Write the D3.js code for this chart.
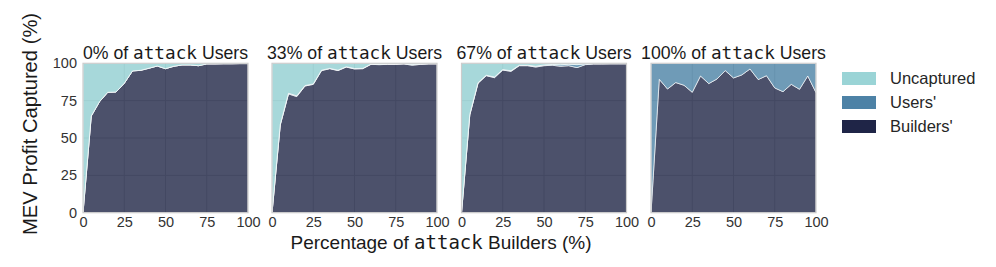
<!DOCTYPE html>
<html><head><meta charset="utf-8">
<script src="https://cdn.jsdelivr.net/npm/d3@7"></script>
<style>
body{margin:0;background:#fff;}
text{font-family:"Liberation Sans",Arial,sans-serif;}
.mono{font-family:"DejaVu Sans Mono",monospace;}
</style></head>
<body><svg id="chart" width="996" height="267"></svg>
<script>
// ---- data ----
const xValues = [0,5,10,15,20,25,30,35,40,45,50,55,60,65,70,75,80,85,90,95,100];
const panelTitles = ["0%","33%","67%","100%"];
const seriesNames = ["Uncaptured","Users'","Builders'"];
const builders0 = [0,64.7,74.3,80.6,80.8,86.6,94.9,95.3,96.7,98.2,96.4,98.0,98.9,98.9,98.4,99.6,99.6,99.7,99.7,99.8,99.8];
const users0    = [0,0,0,0,0,0,0,0,0,0,0,0,0,0,0,0,0,0,0,0,0];
const builders33 = [0,58.7,79.5,77.7,84.8,85.9,95.1,96.4,95.1,97.5,96.2,96.4,99.3,99.1,99.3,99.3,99.6,98.7,99.3,99.6,99.6];
const users33    = [0,0.3,0.5,0.5,0.3,0.3,0.3,0.2,0.3,0.2,0.3,0.2,0.2,0.2,0.2,0.2,0.1,0.5,0.2,0.1,0.1];
const builders67 = [0,65.4,86.6,91.7,90.4,95.5,94.6,98.4,98.4,97.5,98.4,98.7,98.0,98.4,97.1,99.1,99.5,99.5,99.6,99.6,99.6];
const users67    = [0,0.3,0.4,0.3,0.4,0.3,0.4,0.3,0.3,0.5,0.5,0.5,1.0,1.0,2.0,0.5,0.3,0.3,0.2,0.2,0.2];
const builders100 = [0,89.3,82.8,87.1,85.3,80.6,91.5,86.4,89.5,95.1,90.2,92.2,96.2,89.1,91.7,83.5,81.0,85.9,82.6,91.5,80.4];
const users100    = [100,10.7,17.2,12.9,14.7,19.4,8.5,13.6,10.5,4.9,9.8,7.8,3.8,10.9,8.3,16.5,19.0,14.1,17.4,8.5,19.6];
const yTicks = [0,25,50,75,100];
const xTicks = [0,25,50,75,100];

const panels = [
  {title: panelTitles[0], builders: builders0, users: users0},
  {title: panelTitles[1], builders: builders33, users: users33},
  {title: panelTitles[2], builders: builders67, users: users67},
  {title: panelTitles[3], builders: builders100, users: users100}
];

// ---- styles ----
const areaColors = {"Builders'":"#1f2546","Users'":"#4b82a5","Uncaptured":"#91ced1"};
const legendColors = {"Uncaptured":"#9ad4d6","Users'":"#4d82a6","Builders'":"#1f2547"};
const panelLefts = [83, 272, 461.5, 651];
const pw = 165, plotTop = 63.3, ph = 149.4;

const svg = d3.select("#chart");

panels.forEach((p, i) => {
  const g = svg.append("g").attr("transform", `translate(${panelLefts[i]},${plotTop})`);
  const x = d3.scaleLinear().domain([0,100]).range([0,pw]);
  const y = d3.scaleLinear().domain([0,100]).range([ph,0]);

  // grid
  g.append("g").selectAll("line").data(yTicks.slice(1,-1)).join("line")
    .attr("x1",0).attr("x2",pw).attr("y1",d=>y(d)).attr("y2",d=>y(d))
    .attr("stroke","#cfcfcf").attr("stroke-width",1);
  g.append("g").selectAll("line").data(xTicks.slice(1,-1)).join("line")
    .attr("y1",0).attr("y2",ph).attr("x1",d=>x(d)).attr("x2",d=>x(d))
    .attr("stroke","#cfcfcf").attr("stroke-width",1);

  const rows = xValues.map((xv, k) => ({
    x: xv,
    "Builders'": p.builders[k],
    "Users'": p.users[k],
    "Uncaptured": Math.max(0, 100 - p.builders[k] - p.users[k])
  }));
  const stack = d3.stack().keys(["Builders'","Users'","Uncaptured"]);
  const layers = stack(rows);
  const area = d3.area().x(d => x(d.data.x)).y0(d => y(d[0])).y1(d => y(d[1]));
  g.append("g").selectAll("path").data(layers).join("path")
    .attr("d", area)
    .attr("fill", d => areaColors[d.key])
    .attr("fill-opacity", 0.8)
    .attr("stroke", "#ffffff").attr("stroke-width", 0.8).attr("stroke-opacity",0.8);

  // frame
  g.append("rect").attr("x",0).attr("y",0).attr("width",pw).attr("height",ph)
    .attr("fill","none").attr("stroke","#cccccc").attr("stroke-width",1.2);

  // x axis
  const xa = g.append("g").attr("transform",`translate(0,${ph})`)
    .call(d3.axisBottom(x).tickValues(xTicks).tickSize(0).tickPadding(4).tickFormat(d3.format("d")));
  xa.select(".domain").remove();
  xa.selectAll("text").attr("font-size",14.5).attr("fill","#333333")
    .style("font-family","'Liberation Sans',Arial,sans-serif");

  if (i === 0) {
    const ya = g.append("g")
      .call(d3.axisLeft(y).tickValues(yTicks).tickSize(0).tickPadding(6).tickFormat(d3.format("d")));
    ya.select(".domain").remove();
    ya.selectAll("text").attr("font-size",14.5).attr("fill","#333333")
      .style("font-family","'Liberation Sans',Arial,sans-serif");
  }

  // title
  const t = g.append("text").attr("x", pw/2).attr("y", -4).attr("text-anchor","middle")
    .attr("font-size",17.7).attr("fill","#1a1a1a");
  t.append("tspan").text(p.title + " of ");
  t.append("tspan").attr("class","mono").text("attack");
  t.append("tspan").text(" Users");
});

// axis labels
svg.append("text")
  .attr("transform", `translate(37,124) rotate(-90)`)
  .attr("text-anchor","middle").attr("font-size",20.2).attr("fill","#1a1a1a")
  .text("MEV Profit Captured (%)");
const xl = svg.append("text").attr("x",441).attr("y",249).attr("text-anchor","middle")
  .attr("font-size",19).attr("fill","#1a1a1a");
xl.append("tspan").text("Percentage of ");
xl.append("tspan").attr("class","mono").text("attack");
xl.append("tspan").text(" Builders (%)");

// legend
const legend = svg.append("g").attr("transform","translate(842,72)");
seriesNames.forEach((n, k) => {
  legend.append("rect").attr("x",0).attr("y",k*24).attr("width",34).attr("height",13)
    .attr("fill",legendColors[n]);
  legend.append("text").attr("x",48).attr("y",k*24+6.5).attr("dy","0.35em")
    .attr("font-size",16.5).attr("fill","#262626").text(n);
});
</script></body></html>
